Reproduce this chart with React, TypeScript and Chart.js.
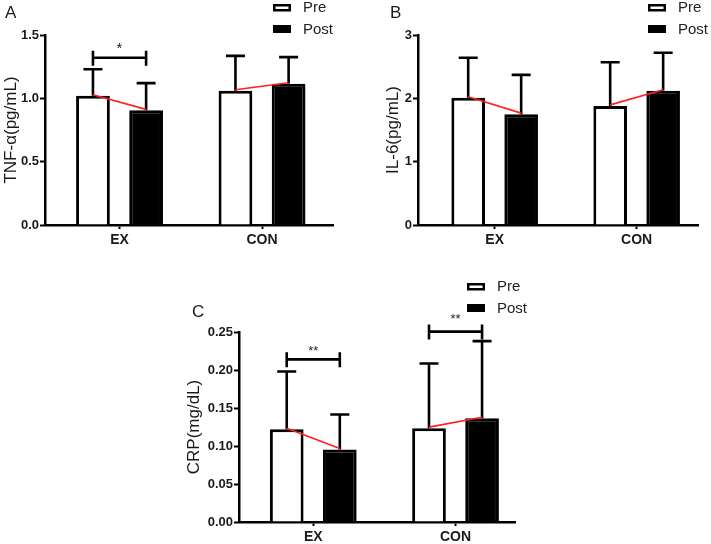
import React, { useEffect, useRef } from 'react';
import { Chart, registerables } from 'chart.js';

Chart.register(...registerables);

// ---------- data ----------
const categories = ['EX', 'CON'];
const seriesLabels = ['Pre', 'Post'];

const tnfPre = [1.02, 1.06];
const tnfPreSD = [0.21, 0.275];
const tnfPost = [0.905, 1.115];
const tnfPostSD = [0.215, 0.21];
const tnfTicks = [0, 0.5, 1.0, 1.5];

const il6Pre = [2.01, 1.88];
const il6PreSD = [0.63, 0.69];
const il6Post = [1.75, 2.12];
const il6PostSD = [0.62, 0.6];
const il6Ticks = [0, 1, 2, 3];

const crpPre = [0.122, 0.1235];
const crpPreSD = [0.076, 0.085];
const crpPost = [0.0955, 0.1365];
const crpPostSD = [0.046, 0.1015];
const crpTicks = [0, 0.05, 0.1, 0.15, 0.2, 0.25];

// significance brackets: category index, bracket level (y value), text
const tnfSigCats = [0];
const tnfSigLevels = [1.32];
const tnfSigTexts = ['*'];
const crpSigCats = [0, 1];
const crpSigLevels = [0.214, 0.2505];
const crpSigTexts = ['**', '**'];

const FONT = '"Liberation Sans", Arial, Helvetica, sans-serif';

type Panel = {
  letter: string;
  yTitle: string;
  ticks: number[];
  decimals: number;
  pre: number[];
  preSD: number[];
  post: number[];
  postSD: number[];
  sigCats: number[];
  sigLevels: number[];
  sigTexts: string[];
  // layout
  left: number; top: number; w: number; h: number;
  area: { l: number; t: number; r: number; b: number };
  xMin: number; xMax: number;
  legend: { x: number; y: number };
  letterPos: { x: number; y: number };
  titlePad: number;
  starFont: number;
  starGaps: number[];
};

const panels: Panel[] = [
  {
    letter: 'A', yTitle: 'TNF-α(pg/mL)', ticks: tnfTicks, decimals: 1,
    pre: tnfPre, preSD: tnfPreSD, post: tnfPost, postSD: tnfPostSD,
    sigCats: tnfSigCats, sigLevels: tnfSigLevels, sigTexts: tnfSigTexts,
    left: 0, top: 0, w: 355, h: 262,
    area: { l: 45, t: 35, r: 333, b: 225 },
    xMin: -0.523, xMax: 1.498,
    legend: { x: 273, y: 4 },
    letterPos: { x: 5, y: 18 },
    titlePad: 1,
    starFont: 15, starGaps: [13],
  },
  {
    letter: 'B', yTitle: 'IL-6(pg/mL)', ticks: il6Ticks, decimals: 0,
    pre: il6Pre, preSD: il6PreSD, post: il6Post, postSD: il6PostSD,
    sigCats: [], sigLevels: [], sigTexts: [],
    left: 355, top: 0, w: 356, h: 262,
    area: { l: 63, t: 35, r: 343, b: 225 },
    xMin: -0.54, xMax: 1.432,
    legend: { x: 293, y: 4 },
    letterPos: { x: 35, y: 18 },
    titlePad: 28,
    starFont: 15, starGaps: [],
  },
  {
    letter: 'C', yTitle: 'CRP(mg/dL)', ticks: crpTicks, decimals: 2,
    pre: crpPre, preSD: crpPreSD, post: crpPost, postSD: crpPostSD,
    sigCats: crpSigCats, sigLevels: crpSigLevels, sigTexts: crpSigTexts,
    left: 180, top: 270, w: 380, h: 274,
    area: { l: 59, t: 62, r: 335, b: 252 },
    xMin: -0.522, xMax: 1.418,
    legend: { x: 287, y: 13 },
    letterPos: { x: 12, y: 47 },
    titlePad: 4,
    starFont: 13, starGaps: [12, 16],
  },
];

function makeDecor(p: Panel) {
  return {
    id: 'decor' + p.letter,
    afterDraw(chart: any) {
      const ctx: CanvasRenderingContext2D = chart.ctx;
      const ys = chart.scales.y;
      const mPre = chart.getDatasetMeta(0);
      const mPost = chart.getDatasetMeta(1);
      ctx.save();
      ctx.strokeStyle = '#000';
      ctx.lineCap = 'butt';
      // error bars (upper only)
      const sets: [any, number[], number[]][] = [
        [mPre, p.pre, p.preSD],
        [mPost, p.post, p.postSD],
      ];
      sets.forEach(([meta, vals, sds]) => {
        meta.data.forEach((bar: any, i: number) => {
          const x = bar.x;
          const y0 = ys.getPixelForValue(vals[i]);
          const y1 = ys.getPixelForValue(vals[i] + sds[i]);
          ctx.lineWidth = 2.6;
          ctx.beginPath();
          ctx.moveTo(x, y0);
          ctx.lineTo(x, y1);
          ctx.moveTo(x - 9.5, y1);
          ctx.lineTo(x + 9.5, y1);
          ctx.stroke();
        });
      });
      // red connecting lines
      ctx.strokeStyle = '#ff2020';
      ctx.lineWidth = 1.7;
      categories.forEach((_, i) => {
        const a = mPre.data[i];
        const b = mPost.data[i];
        ctx.beginPath();
        ctx.moveTo(a.x, ys.getPixelForValue(p.pre[i]) - 1);
        ctx.lineTo(b.x, ys.getPixelForValue(p.post[i]) - 1);
        ctx.stroke();
      });
      // significance brackets
      ctx.strokeStyle = '#000';
      ctx.lineWidth = 2.6;
      p.sigCats.forEach((c, k) => {
        const x0 = mPre.data[c].x;
        const x1 = mPost.data[c].x;
        const y = ys.getPixelForValue(p.sigLevels[k]);
        ctx.beginPath();
        ctx.moveTo(x0, y); ctx.lineTo(x1, y);
        ctx.moveTo(x0, y - 7); ctx.lineTo(x0, y + 8);
        ctx.moveTo(x1, y - 7); ctx.lineTo(x1, y + 8);
        ctx.stroke();
        ctx.fillStyle = '#222';
        ctx.font = `${p.starFont}px ${FONT}`;
        ctx.textAlign = 'center';
        ctx.textBaseline = 'alphabetic';
        const gap = p.starGaps[k];
        ctx.fillText(p.sigTexts[k], (x0 + x1) / 2, y - gap + 0.57 * p.starFont);
      });
      // legend
      const lx = p.legend.x, ly = p.legend.y;
      ctx.fillStyle = '#fff';
      ctx.fillRect(lx, ly, 18, 7.5);
      ctx.lineWidth = 2.5;
      ctx.strokeStyle = '#000';
      ctx.strokeRect(lx + 1.25, ly + 1.25, 15.5, 5);
      ctx.fillStyle = '#000';
      ctx.fillRect(lx, ly + 21, 18, 8);
      ctx.fillStyle = '#222';
      ctx.font = `15px ${FONT}`;
      ctx.textAlign = 'left';
      ctx.textBaseline = 'middle';
      ctx.fillText(seriesLabels[0], lx + 30, ly + 4);
      ctx.fillText(seriesLabels[1], lx + 30, ly + 25.5);
      // panel letter
      ctx.font = `17px ${FONT}`;
      ctx.textBaseline = 'alphabetic';
      ctx.fillStyle = '#1a1a1a';
      ctx.fillText(p.letter, p.letterPos.x, p.letterPos.y);
      ctx.restore();
    },
  };
}

function PanelChart({ p }: { p: Panel }) {
  const ref = useRef<HTMLCanvasElement>(null);
  useEffect(() => {
    if (!ref.current) return;
    const chart = new Chart(ref.current, {
      type: 'bar',
      data: {
        datasets: [
          {
            label: seriesLabels[0],
            data: p.pre.map((v, i) => ({ x: i, y: v })),
            backgroundColor: '#ffffff',
            borderColor: '#000000',
            borderWidth: 3,
            categoryPercentage: 0.746,
            barPercentage: 0.635,
          },
          {
            label: seriesLabels[1],
            data: p.post.map((v, i) => ({ x: i, y: v })),
            backgroundColor: '#000000',
            borderColor: '#000000',
            borderWidth: 3,
            categoryPercentage: 0.746,
            barPercentage: 0.635,
          },
        ],
      },
      options: {
        responsive: false,
        animation: false,
        layout: {
          padding: { left: 0, top: p.area.t, right: p.w - p.area.r, bottom: 0 },
        },
        plugins: { legend: { display: false }, tooltip: { enabled: false } },
        scales: {
          x: {
            type: 'linear',
            min: p.xMin,
            max: p.xMax,
            offset: false,
            afterBuildTicks: (s: any) => {
              s.ticks = categories.map((_, i) => ({ value: i }));
            },
            afterFit: (s: any) => {
              s.height = p.h - p.area.b;
            },
            ticks: {
              autoSkip: false,
              maxRotation: 0,
              padding: 3,
              color: '#1a1a1a',
              font: { family: FONT, size: 14, weight: 'bold' },
              callback: (v: any) => categories[Math.round(Number(v))] ?? '',
            },
            grid: {
              offset: false,
              drawOnChartArea: false,
              drawTicks: true,
              tickLength: 4,
              tickWidth: 2,
              tickColor: '#000',
            },
            border: { display: true, color: '#000', width: 2.5 },
          },
          y: {
            type: 'linear',
            min: p.ticks[0],
            max: p.ticks[p.ticks.length - 1],
            afterBuildTicks: (s: any) => {
              s.ticks = p.ticks.map((v) => ({ value: v }));
            },
            afterFit: (s: any) => {
              s.width = p.area.l;
            },
            ticks: {
              padding: 1,
              color: '#1a1a1a',
              font: { family: FONT, size: 13, weight: 'bold' },
              callback: (v: any) => Number(v).toFixed(p.decimals),
            },
            grid: {
              drawOnChartArea: false,
              drawTicks: true,
              tickLength: 5,
              tickWidth: 2,
              tickColor: '#000',
            },
            border: { display: true, color: '#000', width: 2.5 },
            title: {
              display: true,
              text: p.yTitle,
              color: '#1a1a1a',
              padding: { top: p.titlePad, bottom: 0 },
              font: { family: FONT, size: 17 },
            },
          },
        },
      },
      plugins: [makeDecor(p)],
    } as any);
    return () => chart.destroy();
  }, [p]);
  return (
    <canvas
      ref={ref}
      width={p.w}
      height={p.h}
      style={{ position: 'absolute', left: p.left, top: p.top, width: p.w, height: p.h }}
    />
  );
}

export default function App() {
  return (
    <div
      style={{
        position: 'fixed',
        left: 0,
        top: 0,
        width: 711,
        height: 544,
        background: '#ffffff',
        overflow: 'hidden',
      }}
    >
      {panels.map((p) => (
        <PanelChart key={p.letter} p={p} />
      ))}
    </div>
  );
}
